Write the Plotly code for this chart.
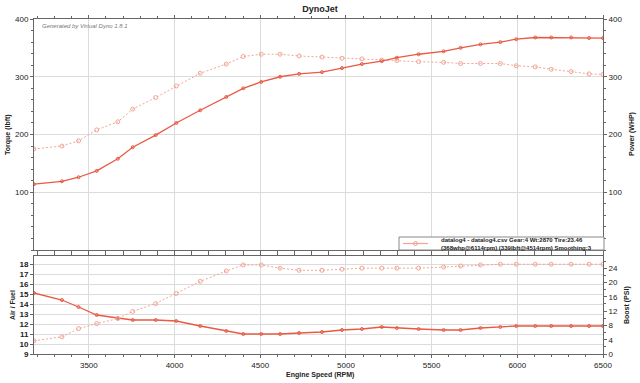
import plotly.graph_objects as go

# ---- data ----
rpm = [3180, 3343, 3440, 3546, 3669, 3756, 3890, 4010, 4150, 4302, 4401, 4506, 4616,
       4727, 4860, 4977, 5093, 5209, 5297, 5424, 5570, 5669, 5785, 5901, 5994, 6105,
       6198, 6314, 6419, 6500]
power_whp = [114, 119, 126, 137, 158, 178, 199, 220, 242, 265, 280, 291, 300,
             305, 308, 315, 322, 327, 333, 339, 344, 350, 356, 360, 365, 368,
             368, 368, 367, 367]
torque_lbft = [175, 180, 189, 208, 222, 244, 264, 284, 306, 322, 335, 339, 339,
               336, 334, 332, 331, 329, 328, 326, 325, 323, 323, 323, 319, 317,
               313, 309, 305, 304]
air_fuel = [15.1, 14.4, 13.7, 12.9, 12.6, 12.4, 12.4, 12.3, 11.8, 11.3, 11.0, 11.0, 11.0,
            11.1, 11.2, 11.4, 11.5, 11.7, 11.6, 11.5, 11.4, 11.4, 11.6, 11.7, 11.8, 11.8,
            11.8, 11.8, 11.8, 11.8]
boost_psi = [3.7, 4.8, 7.1, 8.5, 9.9, 11.9, 14.1, 16.9, 20.3, 23.2, 24.9, 24.9, 24.0,
             23.4, 23.4, 23.7, 24.0, 24.0, 24.0, 24.0, 24.3, 24.6, 24.9, 25.1, 25.1, 25.1,
             25.1, 25.1, 25.1, 25.1]
x_ticks = [3500, 4000, 4500, 5000, 5500, 6000, 6500]
legend_text = ("<b>datalog4 - datalog4.csv Gear:4 Wt:2870 Tire:23.46<br>"
               "(368whp@6114rpm) (339lbft@4514rpm) Smoothing:3</b>")

DARK = "#e85a44"
LIGHT = "#f2a496"
GRID = "#dcdcdc"
AX = "#666666"
FONT = "Liberation Sans"
TXT = "#222222"

# layout geometry (pixels -> paper)
W, H, ML, MR, MT, MB = 640, 383, 34, 37, 19, 29
PW, PH = W - ML - MR, H - MT - MB
def px(x):
    return (x - ML) / PW
def py(y):
    return (H - MB - y) / PH

fig = go.Figure()
fig.add_trace(go.Scatter(x=rpm, y=torque_lbft, xaxis="x2", yaxis="y", mode="lines+markers",
                         line=dict(color=LIGHT, width=1, dash="2px,2px"),
                         marker=dict(symbol="circle-open", size=4, color=LIGHT),
                         showlegend=False))
fig.add_trace(go.Scatter(x=rpm, y=power_whp, xaxis="x2", yaxis="y2", mode="lines+markers",
                         line=dict(color=DARK, width=1.3),
                         marker=dict(symbol="circle-open", size=3, color=DARK),
                         showlegend=False))
fig.add_trace(go.Scatter(x=rpm, y=air_fuel, xaxis="x", yaxis="y3", mode="lines+markers",
                         line=dict(color=DARK, width=1.3),
                         marker=dict(symbol="circle-open", size=3, color=DARK),
                         showlegend=False))
fig.add_trace(go.Scatter(x=rpm, y=boost_psi, xaxis="x", yaxis="y4", mode="lines+markers",
                         line=dict(color=LIGHT, width=1, dash="2px,2px"),
                         marker=dict(symbol="circle-open", size=4, color=LIGHT),
                         showlegend=False))

tickfont = dict(family=FONT, size=8, color=TXT)
common_x = dict(range=[3180, 6500], tickvals=x_ticks, showgrid=True, gridcolor=GRID,
                gridwidth=1, showline=True, linecolor=AX, linewidth=1, mirror="ticks",
                ticks="outside", ticklen=3, tickcolor=AX, zeroline=False, automargin=False,
                minor=dict(dtick=100, tick0=0, ticks="outside", ticklen=2, tickcolor=AX,
                           showgrid=False))
yax = dict(showline=True, linecolor=AX, linewidth=1, ticks="outside", ticklen=3,
           tickcolor=AX, zeroline=False, tickfont=tickfont, automargin=False,
           tickprefix="<b>", ticksuffix="</b>")

def label(text, x, y, angle=0, size=7):
    return dict(text="<b>" + text + "</b>", xref="paper", yref="paper", x=x, y=y,
                xanchor="center", yanchor="middle", showarrow=False, textangle=angle,
                font=dict(family=FONT, size=size, color=TXT))

annotations = [
    dict(text="<i>Generated by Virtual Dyno 1.8.1</i>", xref="paper", yref="paper",
         x=px(40), y=py(21), xanchor="left", yanchor="top", showarrow=False,
         font=dict(family=FONT, size=6, color="#777777")),
    label("Torque (lbft)", px(8), py(134), -90),
    label("Power (WHP)", px(632), py(134), -90),
    label("Air / Fuel", px(12), py(305), -90),
    label("Boost (PSI)", px(627), py(305), -90),
    label("Engine Speed (RPM)", px(320), py(375)),
    dict(text=legend_text, xref="paper", yref="paper", x=px(439), y=py(243.5),
         xanchor="left", yanchor="middle", align="left", showarrow=False,
         font=dict(family=FONT, size=6, color=TXT)),
]
shapes = [
    dict(type="rect", xref="paper", yref="paper", x0=px(399), x1=px(604), y0=py(250), y1=py(237),
         line=dict(color="#888888", width=1), fillcolor="white", layer="above"),
    dict(type="line", xref="paper", yref="paper", x0=px(403), x1=px(428), y0=py(243.5),
         y1=py(243.5), line=dict(color=LIGHT, width=1.2), layer="above"),
    dict(type="circle", xref="paper", yref="paper", x0=px(413.5), x1=px(417.5),
         y0=py(245.5), y1=py(241.5), line=dict(color=LIGHT, width=1), layer="above"),
]

fig.update_layout(
    width=W, height=H,
    margin=dict(l=ML, r=MR, t=MT, b=MB),
    paper_bgcolor="white", plot_bgcolor="white",
    font=dict(family=FONT, size=8, color=TXT),
    showlegend=False,
    title=dict(text="<b>DynoJet</b>", x=0.5, xanchor="center", y=1 - 9 / H, yanchor="middle",
               font=dict(family=FONT, size=9, color=TXT)),
    xaxis=dict(**common_x, anchor="y3", domain=[0, 1], tickfont=tickfont,
               tickprefix="<b>", ticksuffix="</b>"),
    xaxis2=dict(**common_x, anchor="y", matches="x", showticklabels=False),
    yaxis=dict(**yax, domain=[py(250), 1.0], range=[0, 400], tickvals=[100, 200, 300, 400],
               showgrid=True, gridcolor=GRID, anchor="x2",
               minor=dict(dtick=20, ticks="outside", ticklen=2, tickcolor=AX, showgrid=False)),
    yaxis2=dict(**yax, overlaying="y", side="right", anchor="x2", range=[0, 400],
                tickvals=[100, 200, 300, 400], showgrid=False,
                minor=dict(dtick=20, ticks="outside", ticklen=2, tickcolor=AX, showgrid=False)),
    yaxis3=dict(**yax, domain=[0, py(256)], range=[9, 18.8], dtick=1, anchor="x",
                showgrid=True, gridcolor=GRID),
    yaxis4=dict(**yax, overlaying="y3", side="right", anchor="x", range=[0, 27.4],
                tickvals=[0, 4, 8, 12, 16, 20, 24], showgrid=False,
                minor=dict(dtick=2, ticks="outside", ticklen=2, tickcolor=AX, showgrid=False)),
    annotations=annotations,
    shapes=shapes,
)

# remove the browser's default 8px body margin so the figure fills the window exactly
fig.write_html("out.html", config={"displayModeBar": False},
               post_script="document.body.style.margin='0';")
